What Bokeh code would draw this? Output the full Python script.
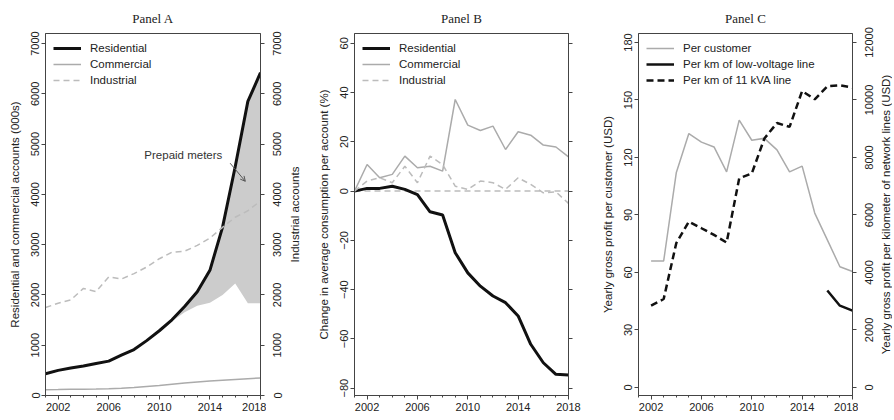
import math
from bokeh.plotting import figure
from bokeh.models import (Range1d, LinearAxis, FixedTicker, Span, Label, Arrow, OpenHead)
from bokeh.core.properties import value
from bokeh.layouts import row
from bokeh.embed import file_html
from bokeh.resources import INLINE

# ---------------- data ----------------
years = [2001, 2002, 2003, 2004, 2005, 2006, 2007, 2008, 2009,
         2010, 2011, 2012, 2013, 2014, 2015, 2016, 2017, 2018]
x_major_ticks = [2002, 2006, 2010, 2014, 2018]

# Panel A: accounts (000s)
res_accounts = [434, 500, 545, 585, 637, 684, 802, 913, 1091,
                1288, 1505, 1769, 2065, 2490, 3350, 4550, 5850, 6420]
com_accounts = [115, 118, 122, 126, 130, 135, 145, 160, 180,
                200, 225, 250, 270, 290, 305, 320, 335, 350]
ind_accounts = [1750, 1835, 1900, 2130, 2065, 2360, 2315, 2425, 2555,
                2720, 2850, 2870, 2985, 3130, 3345, 3545, 3675, 3870]
prepaid_years = [2010, 2011, 2012, 2013, 2014, 2015, 2016, 2017, 2018]
prepaid_meters = [0, 30, 115, 280, 645, 1350, 2320, 4015, 4585]
a_yticks = [0, 1000, 2000, 3000, 4000, 5000, 6000, 7000]

# Panel B: change in average consumption per account (%)
res_change = [0, 1.1, 1.1, 2.0, 0.7, -1.4, -8.4, -9.7, -25.0,
              -33.2, -38.6, -42.6, -45.3, -50.7, -62.2, -69.7, -74.4, -74.7]
com_change = [0, 10.8, 5.4, 6.8, 14.2, 9.5, 10.1, 8.1, 37.2,
              26.8, 24.6, 26.4, 16.9, 24.1, 22.7, 18.7, 17.9, 13.9]
ind_change = [0, 4.1, 5.4, 3.4, 10.1, 3.4, 14.2, 10.8, 2.0,
              0.7, 4.1, 3.4, 0.7, 5.4, 2.7, -0.7, -0.3, -5.0]
b_yticks = [-80, -60, -40, -20, 0, 20, 40, 60]

# Panel C: yearly gross profit (USD)
c_years = [2002, 2003, 2004, 2005, 2006, 2007, 2008, 2009,
           2010, 2011, 2012, 2013, 2014, 2015, 2016, 2017, 2018]
per_customer = [66, 66, 112, 132.5, 128, 125.5, 112.5, 139.5,
                129, 130, 124, 112.5, 115.5, 91, 77, 63, 60.5]
per_km_11kva = [2844, 3077, 5019, 5768, 5539, 5307, 5040, 7274,
                7447, 8661, 9202, 9063, 10312, 10024, 10475, 10510, 10430]
lv_years = [2016, 2017, 2018]
per_km_lv = [3375, 2844, 2671]
c_yticks = [0, 30, 60, 90, 120, 150, 180]
c_ryticks = [0, 2000, 4000, 6000, 8000, 10000, 12000]

# ---------------- style ----------------
FONT = "Liberation Sans"
SERIF = "Liberation Serif"
AX = "#444444"
TXT = "#222222"
BLACK = "#111111"
GREY = "#ababab"
GREY_D = "#bcbcbc"
FILL = "#cccccc"
H = 418
B_TOP, B_BOT = 33, 23


def style_axis(ax, vertical=False):
    ax.axis_line_color = AX
    ax.major_tick_line_color = AX
    ax.minor_tick_line_color = AX
    ax.major_tick_out = 4
    ax.major_tick_in = 0
    ax.minor_tick_out = 2
    ax.minor_tick_in = 0
    ax.major_label_text_font = FONT
    ax.major_label_text_font_size = "11px"
    ax.major_label_text_color = TXT
    ax.major_label_standoff = 2
    ax.axis_label_text_font = FONT
    ax.axis_label_text_font_size = "11.5px"
    ax.axis_label_text_font_style = "normal"
    ax.axis_label_text_color = TXT
    ax.axis_label_standoff = 8
    if vertical:
        ax.major_label_orientation = "vertical"
        ax.minor_tick_line_color = None


def ticks_only_axis(ticks, **kw):
    ax = LinearAxis(ticker=FixedTicker(ticks=ticks),
                    major_label_overrides={t: "" for t in ticks}, **kw)
    style_axis(ax, vertical=True)
    ax.major_label_text_font_size = "0px"
    ax.major_label_standoff = 0
    return ax


def make_fig(title, width, bl, br, yr):
    p = figure(width=width, height=H, x_range=Range1d(2001, 2018), y_range=yr,
               output_backend="svg", toolbar_location=None,
               min_border_left=bl, min_border_right=br,
               min_border_top=B_TOP, min_border_bottom=B_BOT)
    p.title.text = title
    p.title.align = "center"
    p.title.text_font = SERIF
    p.title.text_font_size = "13px"
    p.title.text_font_style = "normal"
    p.title.text_color = TXT
    p.title.standoff = 16
    p.xgrid.visible = False
    p.ygrid.visible = False
    p.outline_line_color = AX
    p.outline_line_width = 1
    p.background_fill_color = "white"
    p.border_fill_color = "white"
    p.xaxis.ticker = FixedTicker(ticks=x_major_ticks, minor_ticks=years)
    style_axis(p.xaxis[0])
    p.xaxis.major_label_standoff = 3
    style_axis(p.yaxis[0], vertical=True)
    return p


def right_strip(width, label_w, main_range, ticks, title, title_x):
    """Right-hand tick labels and axis title of a panel, both reading
    bottom-to-top as in the reference; shares the panel's y range."""
    p = figure(width=width, height=H, x_range=Range1d(0, width - label_w),
               y_range=main_range, output_backend="svg", toolbar_location=None,
               x_axis_location=None, y_axis_location="left",
               min_border_left=label_w, min_border_right=0,
               min_border_top=B_TOP, min_border_bottom=B_BOT)
    p.outline_line_color = None
    p.background_fill_color = "white"
    p.border_fill_color = "white"
    p.xgrid.visible = False
    p.ygrid.visible = False
    ax = p.yaxis[0]
    style_axis(ax, vertical=True)
    ax.ticker = FixedTicker(ticks=ticks)
    ax.axis_line_color = None
    ax.major_tick_line_color = None
    ax.major_tick_out = 0
    ax.major_label_standoff = 0
    p.text(x=[title_x], y=[(main_range.start + main_range.end) / 2], text=[title],
           angle=math.pi / 2, text_align="center", text_baseline="middle",
           text_font=value(FONT), text_font_size=value("11.5px"), text_color=TXT)
    return p


def style_legend(p):
    lg = p.legend[0]
    lg.location = "top_left"
    lg.border_line_alpha = 0
    lg.background_fill_alpha = 0
    lg.margin = 5
    lg.padding = 3
    lg.spacing = 2
    lg.glyph_width = 28
    lg.glyph_height = 14
    lg.label_height = 14
    lg.label_standoff = 9
    lg.label_text_font = FONT
    lg.label_text_font_size = "11.5px"
    lg.label_text_color = TXT


# ---------------- Panel A ----------------
a_range = Range1d(0, 7200)
pa = make_fig("Panel A", 266, 45, 6, a_range)
pa.yaxis.ticker = FixedTicker(ticks=a_yticks)
pa.yaxis.axis_label = "Residential and commercial accounts (000s)"
pa.add_layout(ticks_only_axis(a_yticks), "right")

res_lookup = dict(zip(years, res_accounts))
upper = [res_lookup[y] for y in prepaid_years]
lower = [res_lookup[y] - m for y, m in zip(prepaid_years, prepaid_meters)]
pa.varea(x=prepaid_years, y1=lower, y2=upper, fill_color=FILL, fill_alpha=1)

pa.line(years, res_accounts, line_color=BLACK, line_width=3, legend_label="Residential")
pa.line(years, com_accounts, line_color=GREY, line_width=1.5, legend_label="Commercial")
pa.line(years, ind_accounts, line_color=GREY_D, line_width=1.5, line_dash="6 4",
        legend_label="Industrial")
style_legend(pa)

ANN_TEXT_X, ANN_TEXT_Y = 2011.9, 4790
ARROW_X0, ARROW_Y0, ARROW_X1, ARROW_Y1 = 2015.6, 4620, 2016.8, 4260
pa.add_layout(Label(x=ANN_TEXT_X, y=ANN_TEXT_Y, text="Prepaid meters",
                    text_align="center", text_baseline="middle",
                    text_font=FONT, text_font_size="11.5px", text_color="#333333"))
pa.add_layout(Arrow(end=OpenHead(size=5, line_color="#555555", line_width=1),
                    x_start=ARROW_X0, y_start=ARROW_Y0, x_end=ARROW_X1, y_end=ARROW_Y1,
                    line_color="#555555", line_width=1))

sa = right_strip(36, 15, a_range, a_yticks, "Industrial accounts", 13)

# ---------------- Panel B ----------------
pb = make_fig("Panel B", 294, 52, 28, Range1d(-83, 64))
pb.yaxis.ticker = FixedTicker(ticks=b_yticks)
pb.yaxis.axis_label = "Change in average consumption per account (%)"
pb.add_layout(ticks_only_axis(b_yticks), "right")

pb.add_layout(Span(location=0, dimension="width", line_color=GREY_D, line_width=1.5,
                   line_dash="6 4", level="underlay"))
pb.line(years, res_change, line_color=BLACK, line_width=3, legend_label="Residential")
pb.line(years, com_change, line_color=GREY, line_width=1.5, legend_label="Commercial")
pb.line(years, ind_change, line_color=GREY_D, line_width=1.5, line_dash="6 4",
        legend_label="Industrial")
style_legend(pb)

# ---------------- Panel C ----------------
km_range = Range1d(-4.2 * 200 / 3, 184.7 * 200 / 3)
pc = make_fig("Panel C", 262, 42, 6, Range1d(-4.2, 184.7))
pc.extra_y_ranges = {"km": km_range}
pc.yaxis.ticker = FixedTicker(ticks=c_yticks)
pc.yaxis.axis_label = "Yearly gross profit per customer (USD)"
pc.add_layout(ticks_only_axis(c_ryticks, y_range_name="km"), "right")

pc.line(c_years, per_customer, line_color=GREY, line_width=1.5, legend_label="Per customer")
pc.line(lv_years, per_km_lv, y_range_name="km", line_color=BLACK, line_width=2.5,
        legend_label="Per km of low-voltage line")
pc.line(c_years, per_km_11kva, y_range_name="km", line_color=BLACK, line_width=2.5,
        line_dash="7 4", legend_label="Per km of 11 kVA line")
style_legend(pc)

sc = right_strip(34, 15, km_range, c_ryticks,
                 "Yearly gross profit per kilometer of network lines (USD)", 12)

layout = row(pa, sa, pb, pc, sc, spacing=0)
open("out.html", "w").write(file_html(layout, INLINE))
